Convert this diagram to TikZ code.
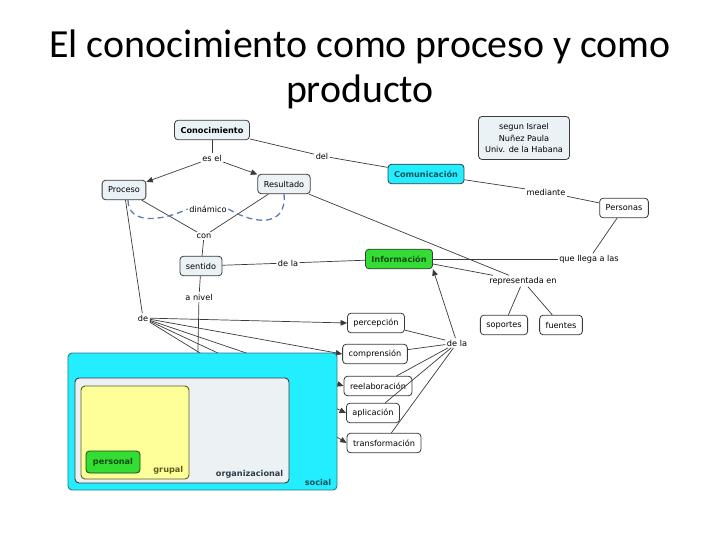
\documentclass[tikz,border=0pt]{standalone}
\usepackage{fontspec}
\setmainfont{DejaVu Sans}
\newfontfamily\titlefont{Carlito}
\usepackage{tikz}
\usetikzlibrary{arrows.meta}
\definecolor{paleblue}{HTML}{EAF2F6}
\definecolor{linegray}{HTML}{3A3A3A}
\definecolor{cyanfill}{HTML}{22EEFF}
\definecolor{cyanborder}{HTML}{2C7A85}
\definecolor{greenfill}{HTML}{33DD33}
\definecolor{yellowfill}{HTML}{FFFF99}
\definecolor{orgfill}{HTML}{ECF1F4}
\definecolor{dashblue}{HTML}{5A7DB5}
\definecolor{tealtext}{HTML}{11505A}
\definecolor{greentext}{HTML}{124A12}
\definecolor{olivetext}{HTML}{5C5C1E}
\definecolor{orgtext}{HTML}{2B3D48}
\newcommand{\cmapfont}{\fontsize{8.2}{12}\selectfont}
\newcommand{\cmapbold}{\fontsize{8.2}{12}\selectfont\bfseries}

\begin{document}
\begin{tikzpicture}[
  x=1bp, y=-1bp,
  every node/.style={font=\cmapfont, align=center},
  titletext/.style={font=\titlefont\fontsize{40}{45}\selectfont, anchor=base, inner sep=0pt},
  concept/.style={draw=linegray, rounded corners=3.5bp, fill=paleblue, line width=0.8bp,
    inner xsep=6bp, inner ysep=0pt, minimum height=19.5bp},
  plain/.style={concept, fill=white},
  hot/.style={concept, font=\cmapbold},
  link/.style={inner sep=1.5bp},
  region/.style={draw=linegray, rounded corners=4bp, line width=0.9bp, inner sep=0pt},
  regiontext/.style={font=\cmapbold, anchor=south east, inner xsep=6bp, inner ysep=5bp},
  line/.style={draw=linegray, line width=0.7bp},
  arr/.style={line, -{Triangle[length=6.5bp,width=5.5bp]}},
  dyn/.style={draw=dashblue, line width=1.3bp, dash pattern=on 6bp off 4bp}
]
  \useasboundingbox (0,0) rectangle (720,540);

  \node[titletext] (titleA) at (360,58) {El conocimiento como proceso y como};
  \node[titletext] (titleB) at (360,103) {producto};

  \node[hot] (conoc) at (212,130) {Conocimiento};
  \node[concept, minimum width=91bp, minimum height=43bp] (source) at (524,138) {segun Israel\\Nuñez Paula\\Univ. de la Habana};
  \node[concept] (proceso) at (124,190) {Proceso};
  \node[concept] (resultado) at (284,184) {Resultado};
  \node[hot, fill=cyanfill, text=tealtext] (comun) at (426,174) {Comunicación};
  \node[plain] (personas) at (624,208) {Personas};
  \node[hot, fill=greenfill, text=greentext] (info) at (399,259) {Información};
  \node[concept] (sentido) at (201,266) {sentido};
  \node[plain] (percep) at (376,323) {percepción};
  \node[plain] (compren) at (375,354) {comprensión};
  \node[plain] (reelab) at (378,386) {reelaboración};
  \node[plain] (aplic) at (373,413) {aplicación};
  \node[plain] (transf) at (384,443) {transformación};
  \node[plain] (soportes) at (504,325) {soportes};
  \node[plain] (fuentes) at (561,325) {fuentes};

  \node[link] (esel) at (212,158) {es el};
  \node[link] (del) at (322,156) {del};
  \node[link] (dinamico) at (208,209) {dinámico};
  \node[link] (con) at (204,236) {con};
  \node[link] (dela) at (288,263) {de la};
  \node[link] (llega) at (589,259) {que llega a las};
  \node[link] (mediante) at (546,192) {mediante};
  \node[link] (anivel) at (199,297) {a nivel};
  \node[link] (de) at (143,318) {de};
  \node[link] (delab) at (457,343) {de la};
  \node[link] (repr) at (523,281) {representada en};
  \coordinate (levels) at (197,400);

  \draw[line] (conoc) -- (esel);
  \draw[arr] (esel) -- (proceso);
  \draw[arr] (esel) -- (resultado);
  \draw[line] (conoc) -- (del);
  \draw[line] (del) -- (comun);
  \draw[line] (comun) -- (mediante);
  \draw[line] (mediante) -- (personas);
  \draw[line] (info) -- (llega);
  \draw[line] (llega) -- (personas);
  \draw[line] (proceso) -- (con);
  \draw[line] (resultado) -- (con);
  \draw[line] (con) -- (sentido);
  \draw[line] (sentido) -- (dela);
  \draw[line] (dela) -- (info);
  \draw[line] (sentido) -- (anivel);
  \draw[line] (anivel) -- (levels);
  \draw[line] (proceso) -- (de);
  \foreach \act in {percep,compren,reelab,aplic,transf} {
    \draw[arr] (de) -- (\act.west);
    \draw[line] (\act) -- (delab);
  }
  \draw[arr] (delab) -- (info.south east);
  \draw[line] (resultado) -- (repr);
  \draw[line] ([yshift=-5bp]info.east) -- (repr);
  \draw[line] (repr) -- (soportes);
  \draw[line] (repr) -- (fuentes);

  \draw[dyn] ([xshift=4bp]proceso.south) .. controls (128,224) and (160,222) .. (dinamico.west);
  \draw[dyn] (dinamico.east) .. controls (255,225) and (287,227) .. (resultado.south);

  \node[region, draw=cyanborder, fill=cyanfill, minimum width=269bp, minimum height=137bp,
    label={[regiontext, text=tealtext]south east:social}] (social) at (202.5,421.5) {};
  \node[region, fill=orgfill, minimum width=214bp, minimum height=105bp,
    label={[regiontext, text=orgtext]south east:organizacional}] (organiz) at (182,430.5) {};
  \node[region, draw=olivetext, fill=yellowfill, minimum width=108bp, minimum height=93bp,
    label={[regiontext, text=olivetext]south east:grupal}] (grupal) at (135,432.5) {};
  \node[hot, draw=greentext, fill=greenfill, text=greentext, minimum width=54bp, minimum height=22bp] (personal) at (113,462) {personal};
\end{tikzpicture}
\end{document}
